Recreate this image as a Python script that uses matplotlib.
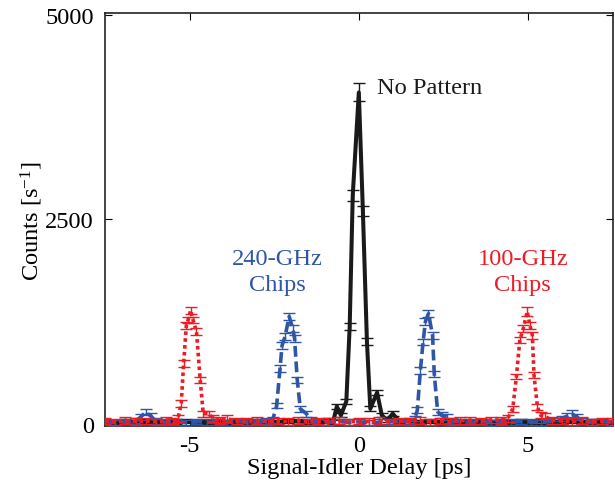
import numpy as np
import matplotlib.pyplot as plt

plt.rcParams['font.family'] = 'serif'
plt.rcParams['font.serif'] = ['Liberation Serif', 'Times New Roman', 'DejaVu Serif']
plt.rcParams['mathtext.fontset'] = 'custom'
plt.rcParams['mathtext.rm'] = 'Liberation Serif'
plt.rcParams['mathtext.it'] = 'Liberation Serif:italic'

# No pattern (black)
blk_x = [-7.5, -7.2, -6.9, -6.6, -6.3, -6.0, -5.7, -5.4, -5.1, -4.8, -4.5, -4.2, -3.9, -3.6,
         -3.3, -3.0, -2.7, -2.4, -2.1, -1.8, -1.5, -1.2, -1.0, -0.88, -0.76, -0.65, -0.53,
         -0.37, -0.27, -0.18, 0.0, 0.12, 0.24, 0.34, 0.54, 0.68, 0.85, 1.0, 1.2, 1.5, 1.8,
         2.1, 2.4, 2.7, 3.0, 3.3, 3.6, 3.9, 4.2, 4.5, 4.8, 5.1, 5.4, 5.7, 6.0, 6.3, 6.6,
         6.9, 7.2, 7.5]
blk_y = [20, 15, 25, 20, 30, 15, 20, 25, 30, 20, 15, 25, 20, 30,
         20, 25, 15, 20, 30, 25, 20, 35, 30, 45, 20, 210, 100,
         270, 1187, 2790, 4050, 2600, 1000, 180, 380, 100, 40, 120, 30, 25, 20,
         30, 20, 25, 15, 20, 30, 20, 25, 20, 30, 20, 25, 15, 20, 30, 20,
         25, 15, 20]
blk_e = [25, 25, 25, 25, 25, 25, 25, 25, 25, 25, 25, 25, 25, 25,
         25, 25, 25, 25, 25, 25, 25, 25, 25, 25, 25, 30, 25,
         30, 45, 65, 110, 60, 45, 30, 35, 25, 25, 30, 25, 25, 25,
         25, 25, 25, 25, 25, 25, 25, 25, 25, 25, 25, 25, 25, 25, 25, 25,
         25, 25, 25]

# 240-GHz chips (blue)
blu_x = [-7.5, -7.2, -6.9, -6.6, -6.45, -6.3, -6.15, -6.0, -5.7, -5.4, -5.1, -4.8, -4.5,
         -4.2, -3.9, -3.6, -3.3, -3.0, -2.75, -2.55, -2.43, -2.33, -2.27, -2.18, -2.06,
         -1.95, -1.9, -1.82, -1.73, -1.55, -1.4, -1.2, -0.9, -0.6, -0.3, 0.0, 0.3, 0.6,
         0.9, 1.2, 1.5, 1.65, 1.73, 1.82, 1.9, 1.97, 2.06, 2.18, 2.23, 2.33, 2.45, 2.6,
         2.75, 3.0, 3.3, 3.6, 3.9, 4.2, 4.5, 4.8, 5.1, 5.4, 5.7, 6.0, 6.15, 6.3, 6.45,
         6.6, 6.9, 7.2, 7.5]
blu_y = [20, 10, 25, 30, 80, 140, 90, 30, 15, 20, 10, 25, 15,
         20, 10, 25, 15, 20, 30, 40, 220, 670, 955, 1065, 1310,
         1160, 1040, 530, 180, 120, 40, 20, 10, 25, 15, 20, 10, 15,
         25, 20, 35, 60, 163, 650, 1000, 1250, 1345, 1080, 610, 145, 100, 80,
         30, 20, 15, 25, 10, 20, 15, 25, 20, 10, 30, 60, 90, 120, 80,
         30, 15, 25, 10]
blu_e = [35, 35, 35, 35, 35, 40, 35, 35, 35, 35, 35, 35, 35,
         35, 35, 35, 35, 35, 35, 35, 35, 40, 40, 40, 45,
         40, 40, 35, 35, 35, 35, 35, 35, 35, 35, 35, 35, 35,
         35, 35, 35, 35, 35, 40, 40, 40, 45, 40, 35, 35, 35, 35,
         35, 35, 35, 35, 35, 35, 35, 35, 35, 35, 35, 35, 35, 40, 35,
         35, 35, 35, 35]

# 100-GHz chips (red)
red_x = [-7.5, -7.2, -6.9, -6.6, -6.3, -6.0, -5.7, -5.5, -5.35, -5.25, -5.18, -5.1, -5.05,
         -4.97, -4.9, -4.8, -4.69, -4.6, -4.44, -4.3, -4.1, -3.9, -3.6, -3.3, -3.0, -2.7,
         -2.4, -2.1, -1.8, -1.5, -1.2, -0.9, -0.6, -0.3, 0.0, 0.3, 0.6, 0.9, 1.2, 1.5,
         1.8, 2.1, 2.4, 2.7, 3.0, 3.3, 3.6, 3.9, 4.2, 4.4, 4.55, 4.66, 4.76, 4.86, 4.98,
         5.06, 5.13, 5.18, 5.28, 5.38, 5.5, 5.7, 6.0, 6.3, 6.6, 6.9, 7.2, 7.5]
red_y = [30, 20, 35, 25, 30, 20, 40, 30, 60, 245, 735, 1200, 1265,
         1385, 1265, 1125, 530, 120, 120, 60, 40, 60, 30, 25, 35, 20,
         30, 25, 35, 20, 30, 25, 35, 20, 30, 25, 35, 20, 30, 25,
         35, 20, 30, 25, 35, 40, 30, 45, 40, 60, 180, 575, 1020, 1160, 1370,
         1200, 1080, 590, 205, 100, 90, 40, 30, 25, 35, 20, 30, 25]
red_e = [40, 40, 40, 40, 40, 40, 40, 40, 40, 40, 40, 40, 40,
         45, 40, 40, 35, 35, 35, 40, 40, 40, 40, 40, 40, 40,
         40, 40, 40, 40, 40, 40, 40, 40, 40, 40, 40, 40, 40, 40,
         40, 40, 40, 40, 40, 40, 40, 40, 40, 40, 35, 35, 40, 40, 60,
         40, 40, 35, 35, 35, 40, 40, 40, 40, 40, 40, 40, 40]

col_blk = '#1a1a1a'
col_blu = '#2f55a6'
col_red = '#ec1c24'

fig = plt.figure(figsize=(6.15, 4.89), dpi=100)
ax = fig.add_axes([0.171, 0.126, 0.826, 0.845])

ax.errorbar(blk_x, blk_y, yerr=blk_e, color=col_blk, lw=2.9, elinewidth=1.0,
            capsize=4, capthick=1.0, zorder=2)
ax.errorbar(blu_x, blu_y, yerr=blu_e, color=col_blu, lw=2.6, ls=(0, (3, 1.3)),
            elinewidth=1.0, capsize=4, capthick=1.0, zorder=3)
ax.errorbar(red_x, red_y, yerr=red_e, color=col_red, lw=2.6, ls=(0, (1, 0.9)),
            elinewidth=1.0, capsize=4, capthick=1.0, zorder=4)

fs = 17.6
ax.text(0.55, 4110, 'No Pattern', color=col_blk, fontsize=fs, ha='left', va='center')
ax.text(-2.4, 1860, '240-GHz\nChips', color=col_blu, fontsize=fs, ha='center',
        va='center', linespacing=1.35)
ax.text(4.85, 1860, '100-GHz\nChips', color=col_red, fontsize=fs, ha='center',
        va='center', linespacing=1.35)

ax.set_xlim(-7.5, 7.52)
ax.set_ylim(-35, 5020)
ax.set_xticks([-5, 0, 5])
ax.set_xticklabels(['-5', '0', '5'])
ax.set_yticks([0, 2500, 5000])
ax.tick_params(direction='in', top=True, right=True, labelsize=fs, length=5, width=0.8)
ax.tick_params(axis='y', pad=8)
ax.tick_params(axis='x', pad=6)
ax.set_xlabel('Signal-Idler Delay [ps]', fontsize=fs, labelpad=1)
ax.set_ylabel('Counts [s$^{\\mathrm{-1}}$]', fontsize=fs, labelpad=0)
for sp in ax.spines.values():
    sp.set_linewidth(1.2)
    sp.set_color('#222222')

plt.savefig('out.png', dpi=100)
